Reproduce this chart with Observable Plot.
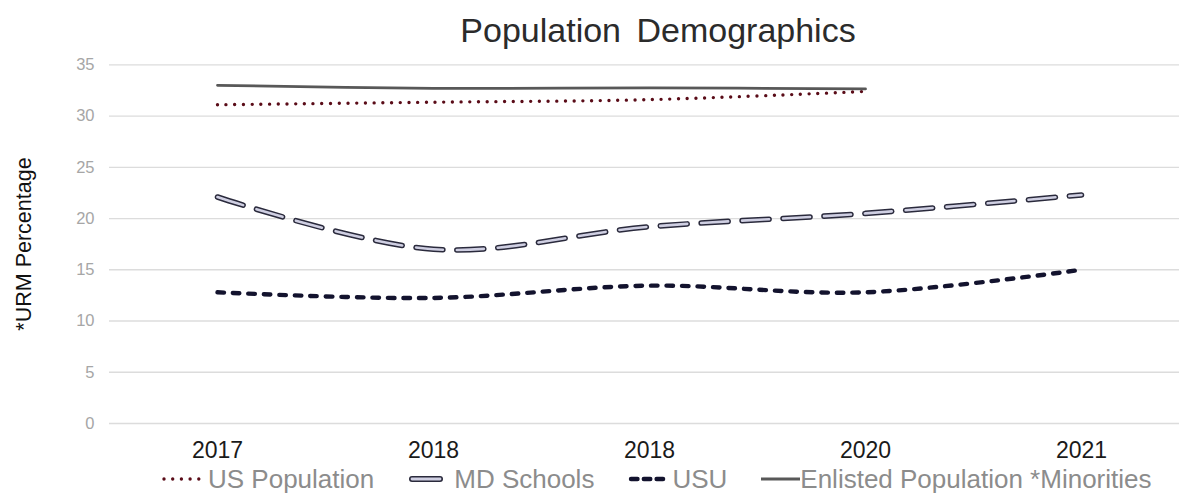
<!DOCTYPE html>
<html>
<head>
<meta charset="utf-8">
<script src="https://cdn.jsdelivr.net/npm/d3@7"></script>
<script src="https://cdn.jsdelivr.net/npm/@observablehq/plot@0.6"></script>
<style>
  html, body { margin: 0; padding: 0; background: #ffffff; }
  body { width: 1179px; height: 493px; position: relative; overflow: hidden;
         font-family: "Liberation Sans", Arial, sans-serif; }
  #title { position: absolute; top: 13px; left: 0; width: 1316px; text-align: center;
           font-size: 34px; line-height: 1; color: #2b2b2b; word-spacing: 6px; }
  #ylabel { position: absolute; left: 25px; top: 244px; transform: translate(-50%, -50%) rotate(-90deg);
            font-size: 21.5px; line-height: 1; color: #111; white-space: nowrap; }
  #chart { position: absolute; top: 52px; left: 0; }
  #legend { position: absolute; top: 466px; left: 162px; display: flex; align-items: center;
            font-size: 26px; line-height: 1; color: #8c8c8c; white-space: nowrap; }
  .item { display: flex; align-items: center; margin-right: 34px; }
  .item svg { display: block; }
</style>
</head>
<body>
<div id="title">Population Demographics</div>
<div id="ylabel">*URM Percentage</div>
<div id="chart"></div>
<div id="legend"></div>
<script>
// Year labels along the x axis (the third column is labelled 2018 as well)
const categories = ["2017", "2018", "2018", "2020", "2021"];

// Series values, percent
const usPopulation = [31.1, 31.35, 31.6, 32.4];
const mdSchools = [22.1, 17.0, 19.2, 20.5, 22.3];
const usu = [12.8, 12.25, 13.45, 12.8, 15.0];
const enlisted = [33.0, 32.7, 32.75, 32.65];

const seriesNames = ["US Population", "MD Schools", "USU", "Enlisted Population *Minorities"];
const yTicks = [0, 5, 10, 15, 20, 25, 30, 35];

// Long-form rows keyed by column index, so the repeated label stays distinct
const toRows = (name, values) => values.map((v, i) => ({series: name, i, value: v}));
const rows = [
  ...toRows(seriesNames[0], usPopulation),
  ...toRows(seriesNames[1], mdSchools),
  ...toRows(seriesNames[2], usu),
  ...toRows(seriesNames[3], enlisted)
];
const of = name => rows.filter(d => d.series === name);

const lineOpts = {x: "i", y: "value", curve: "catmull-rom", strokeLinecap: "round", strokeLinejoin: "round"};

const chart = Plot.plot({
  width: 1179,
  height: 410,
  marginLeft: 109,
  marginRight: 0,
  marginTop: 12.3,
  marginBottom: 39,
  style: {fontFamily: "'Liberation Sans', Arial, sans-serif", background: "transparent", overflow: "visible"},
  // the category bands run a little past the right edge of the frame
  x: {type: "point", domain: categories.map((_, i) => i), range: [109, 1189], padding: 0.5},
  y: {domain: [0, 35]},
  marks: [
    Plot.ruleY(yTicks, {stroke: "#dcdcdc", strokeWidth: 1.3}),
    Plot.axisY({ticks: yTicks, tickSize: 0, tickPadding: 15, fontSize: 16.5, color: "#a6a6a6", label: null}),
    Plot.axisX({tickSize: 0, tickPadding: 18, fontSize: 23, color: "#1a1a1a", label: null,
                tickFormat: i => categories[i]}),
    // US Population: round maroon dots
    Plot.line(of(seriesNames[0]), {...lineOpts, stroke: "#5a0c18", strokeWidth: 3.4, strokeDasharray: "0 8.7"}),
    // MD Schools: outlined long dashes (dark rim, pale lavender core)
    Plot.line(of(seriesNames[1]), {...lineOpts, stroke: "#2a2a3c", strokeWidth: 5.6, strokeDasharray: "27 14"}),
    Plot.line(of(seriesNames[1]), {...lineOpts, stroke: "#cfcfe2", strokeWidth: 2.6, strokeDasharray: "27 14"}),
    // USU: heavy navy dashes
    Plot.line(of(seriesNames[2]), {...lineOpts, stroke: "#13132e", strokeWidth: 4.4, strokeDasharray: "6.5 9"}),
    // Enlisted population: solid gray
    Plot.line(of(seriesNames[3]), {...lineOpts, stroke: "#585858", strokeWidth: 2.8})
  ]
});
document.getElementById("chart").appendChild(chart);

// Legend swatches drawn as small inline SVGs
const swatches = [
  `<svg width="46" height="12"><line x1="2" y1="6" x2="38" y2="6" stroke="#5a0c18" stroke-width="3.4" stroke-linecap="round" stroke-dasharray="0 8.7"/></svg>`,
  `<svg width="46" height="12"><line x1="4" y1="6" x2="32" y2="6" stroke="#2a2a3c" stroke-width="6" stroke-linecap="round"/><line x1="4" y1="6" x2="32" y2="6" stroke="#cfcfe2" stroke-width="2.8" stroke-linecap="round"/></svg>`,
  `<svg width="44" height="12"><line x1="3" y1="6" x2="41" y2="6" stroke="#13132e" stroke-width="4.4" stroke-linecap="round" stroke-dasharray="6.5 6.3"/></svg>`,
  `<svg width="39" height="12"><line x1="0" y1="6" x2="39" y2="6" stroke="#585858" stroke-width="2.8"/></svg>`
];
const legend = document.getElementById("legend");
seriesNames.forEach((name, k) => {
  const item = document.createElement("div");
  item.className = "item";
  item.innerHTML = swatches[k] + `<span>${name}</span>`;
  legend.appendChild(item);
});
</script>
</body>
</html>
